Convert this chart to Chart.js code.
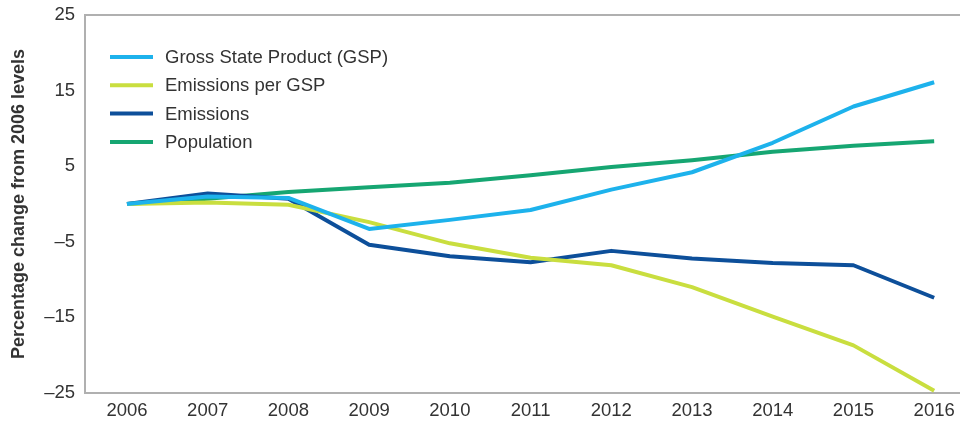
<!DOCTYPE html>
<html>
<head>
<meta charset="utf-8">
<script src="https://cdn.jsdelivr.net/npm/chart.js@4"></script>
<style>
  html, body { margin: 0; padding: 0; background: #fff; }
  #wrap { position: relative; width: 960px; height: 421px; }
</style>
</head>
<body>
<div id="wrap"><canvas id="emissionsChart" width="960" height="421"></canvas></div>
<script>
// Datos (cambio % desde 2006)
const years = [2006, 2007, 2008, 2009, 2010, 2011, 2012, 2013, 2014, 2015, 2016];
const gsp = [0, 1.0, 0.8, -3.3, -2.1, -0.8, 1.9, 4.2, 8.1, 12.9, 16.1];
const emissionsPerGsp = [0, 0.2, -0.1, -2.4, -5.2, -7.1, -8.1, -11.0, -14.9, -18.7, -24.7];
const emissions = [0, 1.4, 0.7, -5.4, -6.9, -7.7, -6.2, -7.2, -7.8, -8.1, -12.4];
const population = [0, 0.7, 1.6, 2.2, 2.8, 3.8, 4.9, 5.8, 6.9, 7.7, 8.3];
const yTicks = [-25, -15, -5, 5, 15, 25];

const toPoints = arr => arr.map((v, i) => ({ x: years[i], y: v }));
const fontFamily = '"Liberation Sans", Arial, sans-serif';

// Leyenda dentro del área del gráfico
const insideLegend = {
    id: 'insideLegend',
    afterDraw(chart) {
        const ctx = chart.ctx;
        const area = chart.chartArea;
        ctx.save();
        ctx.font = '18.5px ' + fontFamily;
        ctx.textBaseline = 'middle';
        chart.data.datasets.forEach((ds, i) => {
            const y = area.top + 42 + i * 28.3;
            ctx.strokeStyle = ds.borderColor;
            ctx.lineWidth = 4;
            ctx.beginPath();
            ctx.moveTo(area.left + 25, y);
            ctx.lineTo(area.left + 68, y);
            ctx.stroke();
            ctx.fillStyle = '#333';
            ctx.fillText(ds.label, area.left + 80, y + 1);
        });
        ctx.restore();
    }
};

const ctx1 = document.getElementById('emissionsChart').getContext('2d');
const emissionsChart = new Chart(ctx1, {
    type: 'line',
    data: {
        datasets: [
            { label: 'Gross State Product (GSP)', data: toPoints(gsp), borderColor: '#1db2ec' },
            { label: 'Emissions per GSP', data: toPoints(emissionsPerGsp), borderColor: '#c9de3f' },
            { label: 'Emissions', data: toPoints(emissions), borderColor: '#0d4f9a' },
            { label: 'Population', data: toPoints(population), borderColor: '#16a672' }
        ]
    },
    options: {
        responsive: false,
        animation: false,
        layout: { padding: { top: 15, right: 0, left: 0, bottom: 0 } },
        elements: {
            line: { borderWidth: 4, tension: 0, borderCapStyle: 'butt', borderJoinStyle: 'round' },
            point: { radius: 0 }
        },
        plugins: {
            legend: { display: false },
            tooltip: { enabled: false }
        },
        scales: {
            x: {
                type: 'linear',
                min: 2005.48,
                max: 2016.32,
                afterBuildTicks: axis => { axis.ticks = years.map(v => ({ value: v })); },
                afterFit: axis => { axis.height = 28; axis.paddingLeft = 0; axis.paddingRight = 0; },
                grid: { display: false, drawTicks: false },
                border: { display: true, color: '#b0b0b0', width: 2 },
                ticks: {
                    padding: 7,
                    color: '#333',
                    font: { family: fontFamily, size: 18.5 },
                    callback: v => String(v)
                }
            },
            y: {
                min: -25,
                max: 25,
                afterBuildTicks: axis => { axis.ticks = yTicks.map(v => ({ value: v })); },
                afterFit: axis => { axis.width = 85; axis.paddingTop = 0; axis.paddingBottom = 0; },
                grid: {
                    drawTicks: false,
                    lineWidth: 2,
                    color: c => (c.tick && c.tick.value === 25 ? '#b0b0b0' : 'rgba(0,0,0,0)')
                },
                border: { display: true, color: '#b0b0b0', width: 2 },
                ticks: {
                    padding: 10,
                    color: '#333',
                    font: { family: fontFamily, size: 18.5 },
                    callback: v => (v < 0 ? '\u2013' + Math.abs(v) : String(v))
                },
                title: {
                    display: true,
                    text: 'Percentage change from 2006 levels',
                    color: '#333',
                    padding: { top: 8, bottom: 0 },
                    font: { family: fontFamily, size: 18, weight: 'bold' }
                }
            }
        }
    },
    plugins: [insideLegend]
});
</script>
</body>
</html>
